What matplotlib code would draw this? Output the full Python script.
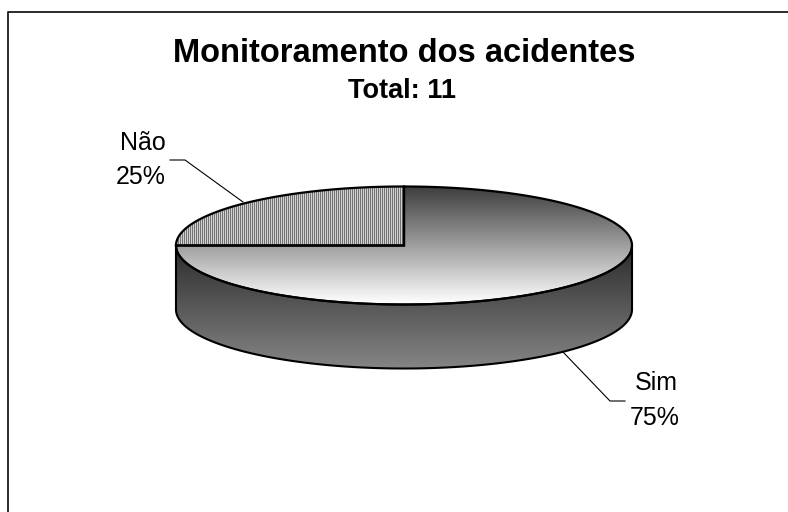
import numpy as np
import matplotlib
matplotlib.use('Agg')
import matplotlib.pyplot as plt
from matplotlib.patches import Polygon

plt.rcParams['font.family'] = ['Liberation Sans', 'DejaVu Sans']

# data
labels = ['Não', 'Sim']
values = [25, 75]
title = 'Monitoramento dos acidentes'
subtitle = 'Total: 11'

# pie geometry in pixels
cx, cy = 404, 245.5
rx, ry = 228, 59
depth = 64

fig = plt.figure(figsize=(7.88, 5.12), dpi=100)
ax = fig.add_axes([0, 0, 1, 1])
ax.set_xlim(0, 788)
ax.set_ylim(512, 0)
ax.axis('off')


def rim(start, end, n=200, dy=0):
    # angles counted clockwise from the top of the pie
    t = np.linspace(start, end, n)
    return np.column_stack([cx + rx * np.sin(t), cy - ry * np.cos(t) + dy])


def fill_gradient(verts, y0, y1, g0, g1):
    grad = np.linspace(g0, g1, 256).reshape(-1, 1)
    im = ax.imshow(grad, cmap='gray', vmin=0, vmax=1, aspect='auto',
                   extent=[cx - rx - 2, cx + rx + 2, y1, y0], zorder=2)
    patch = Polygon(verts, closed=True, transform=ax.transData, fc='none', ec='none')
    ax.add_patch(patch)
    im.set_clip_path(patch)


# slice angles, Não ends at the top of the pie going counter clockwise
fracs = np.array(values) / sum(values)
nao_start = 2 * np.pi * (1 - fracs[0])
center = np.array([[cx, cy]])

# side of the pie
front = rim(np.pi / 2, 3 * np.pi / 2)
back = rim(np.pi / 2, 3 * np.pi / 2, dy=depth)[::-1]
side = np.vstack([front, back])
fill_gradient(side, cy, cy + ry + depth, 0.17, 0.52)
ax.add_patch(Polygon(side, closed=True, fc='none', ec='black', lw=1.5, zorder=4))

# Sim slice
sim = np.vstack([center, rim(0, nao_start)])
fill_gradient(sim, cy - ry, cy + ry, 0.24, 1.0)
ax.add_patch(Polygon(sim, closed=True, fc='none', ec='black', lw=1.6, zorder=4))

# Não slice with vertical stripes
nao = np.vstack([center, rim(nao_start, 2 * np.pi)])
x0, x1 = int(cx - rx), int(cx)
stripes = np.tile([0.45, 0.82], (x1 - x0) // 2 + 1)[:x1 - x0].reshape(1, -1)
im = ax.imshow(stripes, cmap='gray', vmin=0, vmax=1, aspect='auto',
               interpolation='nearest', extent=[x0, x1, cy, cy - ry], zorder=3)
nao_patch = Polygon(nao, closed=True, fc='none', ec='none')
ax.add_patch(nao_patch)
im.set_clip_path(nao_patch)
ax.add_patch(Polygon(nao, closed=True, fc='none', ec='black', lw=1.6, zorder=4))

ax.set_xlim(0, 788)
ax.set_ylim(512, 0)

# chart border, only top and left show
ax.plot([8, 8, 788], [512, 12, 12], color='#1a1a1a', lw=1.3, zorder=5)

# leader lines
ax.plot([170, 185, 243], [160, 160, 202], color='black', lw=0.8, zorder=5)
ax.plot([563, 610, 625], [352, 401, 401], color='black', lw=0.8, zorder=5)

ax.text(404, 62, title, fontsize=23.5, fontweight='bold', ha='center', va='baseline')
ax.text(402.5, 98, subtitle, fontsize=19.5, fontweight='bold', ha='center', va='baseline')

ax.text(143, 150, labels[0], fontsize=18, ha='center', va='baseline')
ax.text(141, 184, f'{values[0]}%', fontsize=18, ha='center', va='baseline')
ax.text(656.5, 390, labels[1], fontsize=18, ha='center', va='baseline')
ax.text(655, 425, f'{values[1]}%', fontsize=18, ha='center', va='baseline')

fig.savefig('out.png', dpi=100)
